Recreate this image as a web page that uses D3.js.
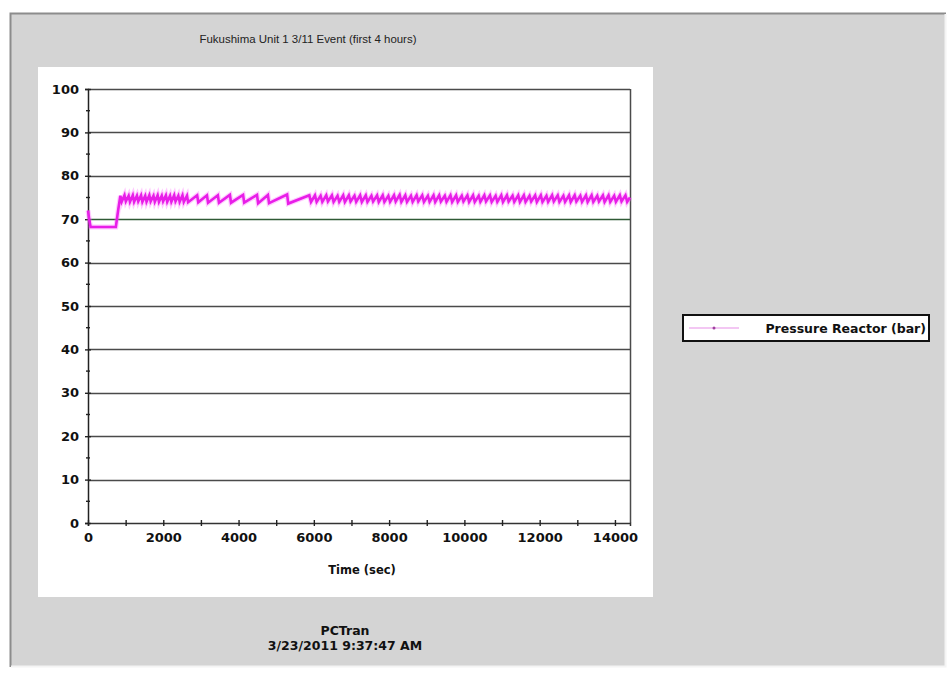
<!DOCTYPE html>
<html>
<head>
<meta charset="utf-8">
<script src="https://cdn.jsdelivr.net/npm/d3@7"></script>
<style>
  body { margin: 0; background: #ffffff; }
  svg text { font-family: "DejaVu Sans", Arial, sans-serif; }
</style>
</head>
<body>
<script>
const w = 949;
const h = 675;

// chart texts
const chartTitle = "Fukushima Unit 1 3/11 Event (first 4 hours)";
const xTitle = "Time (sec)";
const seriesName = "Pressure Reactor (bar)";
const footerLines = ["PCTran", "3/23/2011 9:37:47 AM"];

// axes
const xDomain = [0, 14400];
const yDomain = [0, 100];
const xTicks = [0,1000,2000,3000,4000,5000,6000,7000,8000,9000,10000,11000,12000,13000,14000];
const yTicks = [0,10,20,30,40,50,60,70,80,90,100];
const yMinorTicks = [5,15,25,35,45,55,65,75,85,95];

// pressure reactor (bar): [time sec, bar]
const pressure = [
  [0,72.0],[40,69.5],[70,68.2],[740,68.2],[800,72.0],[860,75.4],
  [895,74.0],[970,75.5],[1005,74.1],[1080,75.4],[1115,74.0],[1190,75.5],[1225,74.0],
  [1300,75.4],[1335,74.1],[1410,75.5],[1445,74.0],[1520,75.4],[1555,74.0],[1630,75.5],
  [1665,74.1],[1740,75.4],[1775,74.0],[1850,75.5],[1885,74.0],[1960,75.4],[1995,74.1],
  [2070,75.5],[2105,74.0],[2180,75.4],[2215,74.0],[2290,75.5],[2325,74.1],[2400,75.4],
  [2435,74.0],[2510,75.5],[2545,74.0],
  [2630,75.4],[2660,73.9],[2900,75.5],[2930,73.9],[3160,75.5],[3190,73.8],[3450,75.5],
  [3480,73.8],[3770,75.6],[3800,73.8],[4120,75.6],[4150,73.8],[4490,75.6],[4520,73.7],
  [4780,75.6],[4810,73.7],[5290,75.7],[5320,73.6],
  [5880,75.5],[5925,74.0],[6030,75.5],[6075,74.0],[6180,75.4],[6225,74.0],[6330,75.5],[6375,74.1],
  [6480,75.5],[6525,74.0],[6630,75.4],[6675,74.0],[6780,75.5],[6825,74.0],[6930,75.5],[6975,74.1],
  [7080,75.4],[7125,74.0],[7230,75.5],[7275,74.0],[7380,75.5],[7425,74.0],[7530,75.4],[7575,74.1],
  [7680,75.5],[7725,74.0],[7830,75.5],[7875,74.0],[7980,75.4],[8025,74.0],[8130,75.5],[8175,74.1],
  [8280,75.6],[8325,74.0],[8430,75.5],[8475,74.0],[8580,75.4],[8625,74.0],[8730,75.5],[8775,74.1],
  [8880,75.5],[8925,74.0],[9030,75.4],[9075,74.0],[9180,75.5],[9225,74.0],[9330,75.5],[9375,74.1],
  [9480,75.4],[9525,74.0],[9630,75.5],[9675,74.0],[9780,75.5],[9825,74.0],[9930,75.4],[9975,74.1],
  [10080,75.5],[10125,74.0],[10230,75.5],[10275,74.0],[10380,75.4],[10425,74.0],[10530,75.5],[10575,74.1],
  [10680,75.5],[10725,74.0],[10830,75.4],[10875,74.0],[10980,75.5],[11025,74.0],[11130,75.5],[11175,74.1],
  [11280,75.4],[11325,74.0],[11430,75.5],[11475,74.0],[11580,75.5],[11625,74.0],[11730,75.4],[11775,74.1],
  [11880,75.5],[11925,74.0],[12030,75.5],[12075,74.0],[12180,75.4],[12225,74.0],[12330,75.5],[12375,74.1],
  [12480,75.5],[12525,74.0],[12630,75.4],[12675,74.0],[12780,75.5],[12825,74.0],[12930,75.5],[12975,74.1],
  [13080,75.4],[13125,74.0],[13230,75.5],[13275,74.0],[13380,75.5],[13425,74.0],[13530,75.4],[13575,74.1],
  [13680,75.5],[13725,74.0],[13830,75.5],[13875,74.0],[13980,75.4],[14025,74.0],[14130,75.5],[14175,74.1],
  [14280,75.5],[14325,74.0],[14400,75.0]
];

let svg = d3.select("body")
  .append("svg")
  .attr("width", w)
  .attr("height", h);

// grey window panel with 3d edge
svg.append("rect").attr("x", 10).attr("y", 13).attr("width", 936).attr("height", 654)
  .attr("fill", "#d4d4d4");
svg.append("path").attr("d", "M10.5,667 V13.5 H946").attr("fill", "none")
  .attr("stroke", "#8c8c8c").attr("stroke-width", 2);
svg.append("path").attr("d", "M945.5,14 V666.5 H11").attr("fill", "none")
  .attr("stroke", "#f4f4f4").attr("stroke-width", 2);

// white chart area
svg.append("rect").attr("x", 38).attr("y", 67).attr("width", 615).attr("height", 530)
  .attr("fill", "#ffffff");

svg.append("text")
  .attr("x", 308).attr("y", 43)
  .attr("text-anchor", "middle")
  .style("font-family", "'Liberation Sans', sans-serif")
  .style("font-size", "11.5px")
  .attr("textLength", 217)
  .attr("lengthAdjust", "spacingAndGlyphs")
  .attr("fill", "#222")
  .text(chartTitle);

const x = d3.scaleLinear().domain(xDomain).range([88, 630]);
const y = d3.scaleLinear().domain(yDomain).range([523, 89]);

// grid lines
svg.append("g").selectAll("line")
  .data(yTicks.filter(d => d > 0))
  .enter().append("line")
  .attr("x1", x(xDomain[0])).attr("x2", x(xDomain[1]))
  .attr("y1", d => Math.round(y(d)) + 0.5).attr("y2", d => Math.round(y(d)) + 0.5)
  .attr("stroke", d => d === 70 ? "#2f5a35" : "#4a4a4a")
  .attr("stroke-width", 1.3);

// right border
svg.append("line")
  .attr("x1", x(xDomain[1]) + 0.5).attr("x2", x(xDomain[1]) + 0.5)
  .attr("y1", y(100)).attr("y2", y(0))
  .attr("stroke", "#4a4a4a").attr("stroke-width", 1.5);

// x axis
const xAxis = d3.axisBottom(x)
  .tickValues(xTicks)
  .tickSize(3)
  .tickPadding(7)
  .tickFormat(d => d % 2000 === 0 ? d : "");
const gx = svg.append("g")
  .attr("transform", "translate(0," + y(0) + ")")
  .call(xAxis);
gx.select(".domain").attr("stroke", "#333").attr("stroke-width", 1.5);
gx.selectAll(".tick line").attr("y1", -3).attr("y2", 3).attr("stroke", "#222").attr("stroke-width", 1.4);
gx.selectAll(".tick text")
  .style("font-family", "'DejaVu Sans', sans-serif")
  .style("font-size", "13px").style("font-weight", "bold").attr("fill", "#111");

// y axis
const yAxis = d3.axisLeft(y)
  .tickValues(yTicks)
  .tickSize(3)
  .tickPadding(6);
const gy = svg.append("g")
  .attr("transform", "translate(" + x(0) + ",0)")
  .call(yAxis);
gy.select(".domain").attr("stroke", "#222").attr("stroke-width", 1.5);
gy.selectAll(".tick line").attr("x1", -3).attr("x2", 3).attr("stroke", "#222").attr("stroke-width", 1.4);
gy.selectAll(".tick text")
  .style("font-family", "'DejaVu Sans', sans-serif")
  .style("font-size", "13px").style("font-weight", "bold").attr("fill", "#111");
gy.selectAll(".minor")
  .data(yMinorTicks)
  .enter().append("line")
  .attr("class", "minor")
  .attr("x1", -2).attr("x2", 2)
  .attr("y1", d => y(d)).attr("y2", d => y(d))
  .attr("stroke", "#222").attr("stroke-width", 1.4);

svg.append("text")
  .attr("x", 362).attr("y", 574)
  .attr("text-anchor", "middle")
  .style("font-size", "11.5px").style("font-weight", "bold")
  .attr("fill", "#111")
  .text(xTitle);

// pressure line
const line = d3.line()
  .x(d => x(d[0]))
  .y(d => y(d[1]));

svg.append("path")
  .datum(pressure)
  .attr("d", line)
  .attr("fill", "none")
  .attr("stroke", "#ff66ff")
  .attr("stroke-opacity", 0.35)
  .attr("stroke-width", 5);
svg.append("path")
  .datum(pressure)
  .attr("d", line)
  .attr("fill", "none")
  .attr("stroke", "#e81ee8")
  .attr("stroke-width", 2.6);

// legend
const lg = svg.append("g").attr("transform", "translate(683,315)");
lg.append("rect").attr("width", 246).attr("height", 26)
  .attr("fill", "#ffffff").attr("stroke", "#111").attr("stroke-width", 2);
lg.append("line").attr("x1", 6).attr("x2", 56).attr("y1", 13).attr("y2", 13)
  .attr("stroke", "#e890e8").attr("stroke-width", 1.2);
lg.append("circle").attr("cx", 31).attr("cy", 13).attr("r", 1.5).attr("fill", "#a040a0");
lg.append("text")
  .attr("x", 243).attr("y", 18)
  .attr("text-anchor", "end")
  .style("font-size", "12.5px").style("font-weight", "bold")
  .attr("fill", "#111")
  .text(seriesName);

// footer
svg.append("g").selectAll("text")
  .data(footerLines)
  .enter().append("text")
  .attr("x", 345)
  .attr("y", (d, i) => 635 + i * 15)
  .attr("text-anchor", "middle")
  .style("font-size", "12.5px").style("font-weight", "bold")
  .attr("fill", "#111")
  .text(d => d);
</script>
</body>
</html>
